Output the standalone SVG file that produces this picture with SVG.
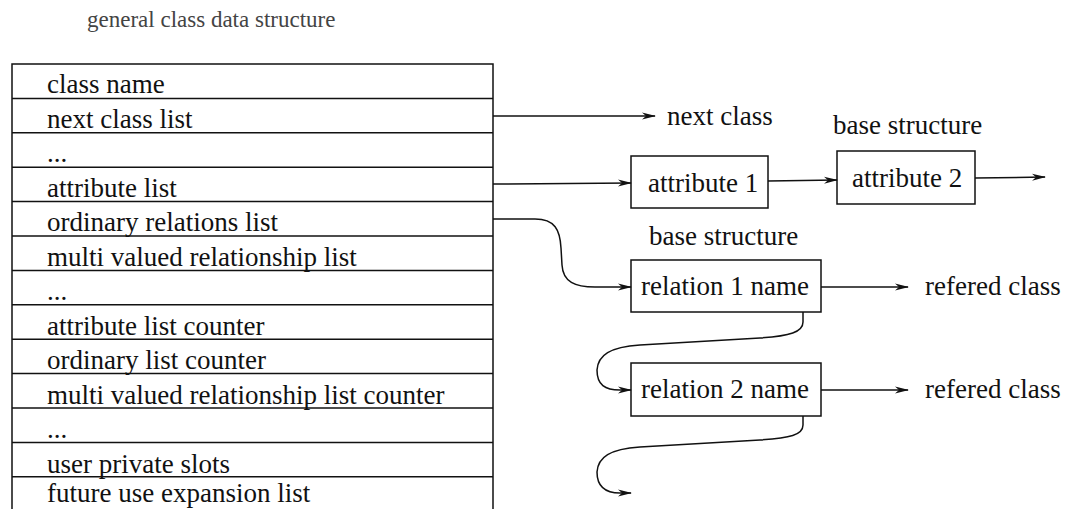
<svg xmlns="http://www.w3.org/2000/svg" width="1069" height="509" viewBox="0 0 1069 509">
<style>
text{font-family:"Liberation Serif","Times New Roman",serif;font-size:27px;fill:#111}
.title{font-size:23px;fill:#444}
.box{fill:#fff;stroke:#111;stroke-width:1.5}
.row{stroke:#111;stroke-width:1.5}
.con{fill:none;stroke:#111;stroke-width:1.5;marker-end:url(#ah)}
</style>
<defs>
<marker id="ah" viewBox="0 0 14 8" refX="13" refY="4" markerWidth="14" markerHeight="8" markerUnits="userSpaceOnUse" orient="auto">
<path d="M0,0.5 L14,4 L0,7.5 L4,4 Z" fill="#111"/>
</marker>
</defs>
<rect width="1069" height="509" fill="#fff"/>
<text class="title" x="87" y="27">general class data structure</text>
<g id="table">
<path class="row" fill="none" d="M12,515 L12,64 L493,64 L493,515"/>
<line class="row" x1="12" y1="98.4" x2="493" y2="98.4"/>
<line class="row" x1="12" y1="132.8" x2="493" y2="132.8"/>
<line class="row" x1="12" y1="167.2" x2="493" y2="167.2"/>
<line class="row" x1="12" y1="201.6" x2="493" y2="201.6"/>
<line class="row" x1="12" y1="236" x2="493" y2="236"/>
<line class="row" x1="12" y1="270.4" x2="493" y2="270.4"/>
<line class="row" x1="12" y1="304.8" x2="493" y2="304.8"/>
<line class="row" x1="12" y1="339.2" x2="493" y2="339.2"/>
<line class="row" x1="12" y1="373.6" x2="493" y2="373.6"/>
<line class="row" x1="12" y1="408" x2="493" y2="408"/>
<line class="row" x1="12" y1="442.4" x2="493" y2="442.4"/>
<line class="row" x1="12" y1="476.8" x2="493" y2="476.8"/>
<text x="47" y="93">class name</text>
<text x="47" y="127.5">next class list</text>
<text x="47" y="162">...</text>
<text x="47" y="196.5">attribute list</text>
<text x="47" y="231">ordinary relations list</text>
<text x="47" y="265.5">multi valued relationship list</text>
<text x="47" y="300">...</text>
<text x="47" y="334.5">attribute list counter</text>
<text x="47" y="369">ordinary list counter</text>
<text x="47" y="403.5">multi valued relationship list counter</text>
<text x="47" y="438">...</text>
<text x="47" y="472.5">user private slots</text>
<text x="47" y="502">future use expansion list</text>
</g>
<g id="next-class"><text x="667" y="125">next class</text></g>
<g id="attribute1">
<rect class="box" x="631" y="156" width="137" height="52"/>
<text x="648" y="192">attribute 1</text>
</g>
<g id="attribute2">
<text x="833" y="134">base structure</text>
<rect class="box" x="837" y="151" width="138" height="53"/>
<text x="852" y="187">attribute 2</text>
</g>
<g id="relation1">
<text x="649" y="245">base structure</text>
<rect class="box" x="631" y="260" width="190" height="52"/>
<text x="641" y="295">relation 1 name</text>
</g>
<g id="relation2">
<rect class="box" x="631" y="363" width="190" height="53"/>
<text x="641" y="398">relation 2 name</text>
</g>
<g id="refered1"><text x="925" y="295">refered class</text></g>
<g id="refered2"><text x="925" y="398">refered class</text></g>
<g id="connectors">
<path class="con" d="M493,116 L655,116"/>
<path class="con" d="M493,184 L631,183"/>
<path class="con" d="M768,181 L837,180"/>
<path class="con" d="M975,178 L1045,177"/>
<path class="con" d="M493,219 L535,219 C555,219 560,230 561,248 L562,265 C563,282 575,287 595,287 L631,287"/>
<path class="con" d="M821,287 L908,287"/>
<path class="con" d="M821,390 L908,390"/>
<path class="con" d="M803,312 L803,322 C803,332 790,336 760,338 L640,345 C610,347 598,355 597,370 C597,385 605,390 620,390 L631,390"/>
<path class="con" d="M803,416 L803,425 C803,435 790,438 760,440 L640,447 C610,449 598,457 597,472 C597,487 605,493 620,493 L631,493"/>
</g>
</svg>
